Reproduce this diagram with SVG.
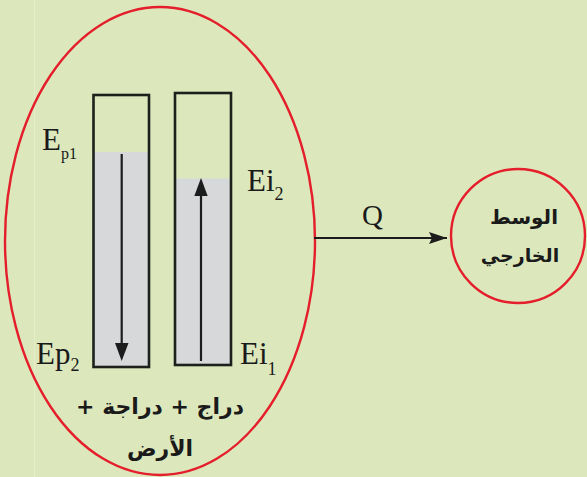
<svg xmlns="http://www.w3.org/2000/svg" width="587" height="477" viewBox="0 0 587 477">
<defs>
<style>
.bar{fill:none;stroke:#1c211c;stroke-width:2.6}
.fill{fill:#d6d8d9}
.ln{stroke:#1c1c1c;stroke-width:2.2;fill:none}
.lat{font-family:"Liberation Serif",serif;fill:#1a1a1a}
.ar{font-family:"DejaVu Sans","Noto Sans",sans-serif;font-weight:bold;fill:#1a1a1a}
.red{fill:none;stroke:#e41e2b;stroke-width:2.4}
</style>
<marker id="ah2" viewBox="0 0 18 12" refX="18" refY="6" markerWidth="18" markerHeight="12" markerUnits="userSpaceOnUse" orient="auto">
<path d="M0,0 L18,6 L0,12 L3,6 Z" fill="#1c1c1c"/>
</marker>
</defs>
<rect width="587" height="477" fill="#dce8bc"/>
<line x1="34.5" y1="0" x2="34.5" y2="477" stroke="#e4eecb" stroke-width="1"/>
<g id="system">
<ellipse class="red" cx="160" cy="241" rx="155" ry="234"/>
<text class="ar" x="160" y="414" font-size="22" text-anchor="middle" direction="rtl">دراج + دراجة +</text>
<text class="ar" x="160" y="456" font-size="22" text-anchor="middle" direction="rtl">الأرض</text>
</g>
<g id="bar-potential">
<rect class="fill" x="94" y="152" width="54" height="214"/>
<rect class="bar" x="93.5" y="95" width="55.5" height="272"/>
<line x1="121.7" y1="154" x2="121.7" y2="344" class="ln"/>
<path d="M115,343 L128.5,343 L121.7,361 Z" fill="#1c1c1c"/>
<text class="lat" x="42" y="150" font-size="31">E<tspan font-size="16" dy="9">p1</tspan></text>
<text class="lat" x="36" y="364" font-size="31">Ep<tspan font-size="18" dy="7">2</tspan></text>
</g>
<g id="bar-internal">
<rect class="fill" x="176" y="178.5" width="54" height="186"/>
<rect class="bar" x="175" y="93" width="56" height="272"/>
<line x1="201" y1="361" x2="201" y2="195" class="ln"/>
<path d="M194.3,196 L207.7,196 L201,178 Z" fill="#1c1c1c"/>
<text class="lat" x="247" y="191" font-size="31">Ei<tspan font-size="18" dy="9">2</tspan></text>
<text class="lat" x="240" y="364" font-size="31">Ei<tspan font-size="18" dy="11">1</tspan></text>
</g>
<g id="outside">
<circle class="red" cx="518" cy="236" r="67"/>
<text class="ar" x="524" y="224" font-size="20" text-anchor="middle" direction="rtl">الوسط</text>
<text class="ar" x="520" y="262" font-size="19" text-anchor="middle" direction="rtl">الخارجي</text>
</g>
<g id="connectors">
<line x1="314" y1="238" x2="447" y2="238" class="ln" marker-end="url(#ah2)"/>
<text class="lat" x="362" y="225" font-size="29">Q</text>
</g>
</svg>
